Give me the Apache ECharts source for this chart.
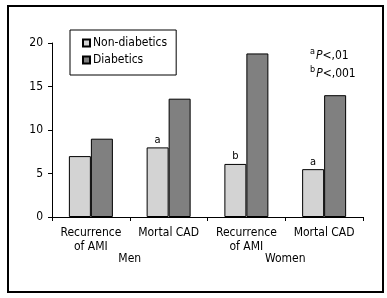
<!DOCTYPE html>
<html>
<head>
<meta charset="utf-8">
<script src="https://cdn.jsdelivr.net/npm/echarts@6/dist/echarts.min.js"></script>
<style>
  html, body { margin: 0; padding: 0; background: #fff; }
  #chart { width: 387px; height: 298px; }
</style>
</head>
<body>
<div id="chart"></div>
<script>
// data
const categories = ['Recurrence\nof AMI', 'Mortal CAD', 'Recurrence\nof AMI', 'Mortal CAD']
const groups = ['Men', 'Women']
const nonDiabetics = [7.0, 8.0, 6.1, 5.5]
const diabetics = [9.0, 13.6, 18.8, 14.0]
const marks = ['', 'a', 'b', 'a'] // significance letter above non-diabetic bar
const yTicks = [0, 20, 5]       // min, max, interval

const FONT = '"Liberation Sans Narrow", "DejaVu Sans Condensed", "Liberation Sans", sans-serif'

const chart = echarts.init(document.getElementById('chart'))

const option = {
  backgroundColor: '#fff',
  animation: false,
  textStyle: { fontFamily: FONT, color: '#000' },
  grid: { left: 52, right: 24, top: 43, bottom: 81 },
  legend: {
    left: 70,
    top: 30,
    orient: 'vertical',
    padding: [7, 9, 9, 12],
    itemGap: 5,
    itemWidth: 7,
    itemHeight: 7,
    borderColor: '#000',
    borderWidth: 1,
    icon: 'rect',
    textStyle: { fontFamily: FONT, fontSize: 12, color: '#000', padding: [0, 0, 0, -2] },
    data: ['Non-diabetics', 'Diabetics']
  },
  xAxis: [
    {
      type: 'category',
      data: categories,
      axisLine: { lineStyle: { color: '#000', width: 1 } },
      axisTick: { show: true, interval: 0, length: 4, lineStyle: { color: '#000' } },
      axisLabel: { interval: 0, fontFamily: FONT, fontSize: 12, color: '#000', margin: 9, lineHeight: 14 }
    },
    {
      type: 'category',
      data: groups,
      position: 'bottom',
      offset: 36,
      axisLine: { show: false },
      axisTick: { show: false },
      axisLabel: { interval: 0, fontFamily: FONT, fontSize: 12, color: '#000', margin: 0 }
    }
  ],
  yAxis: {
    type: 'value',
    min: yTicks[0],
    max: yTicks[1],
    interval: yTicks[2],
    splitLine: { show: false },
    axisLine: { show: true, lineStyle: { color: '#000' } },
    axisTick: { show: true, length: 4, lineStyle: { color: '#000' } },
    axisLabel: { fontFamily: FONT, fontSize: 12, color: '#000', margin: 9 }
  },
  series: [
    {
      name: 'Non-diabetics',
      type: 'bar',
      xAxisIndex: 0,
      barWidth: 22,
      barGap: '0%',
      itemStyle: { color: '#d3d3d3', borderColor: '#000', borderWidth: 1 },
      data: nonDiabetics.map((v, i) => ({
        value: v,
        label: {
          show: marks[i] !== '',
          position: 'top',
          distance: 2,
          formatter: marks[i],
          fontFamily: FONT,
          fontSize: 11,
          color: '#000'
        }
      }))
    },
    {
      name: 'Diabetics',
      type: 'bar',
      xAxisIndex: 0,
      barWidth: 22,
      barGap: '0%',
      itemStyle: { color: '#808080', borderColor: '#000', borderWidth: 1 },
      data: diabetics
    }
  ],
  graphic: [
    {
      type: 'rect',
      shape: { x: 8, y: 6, width: 375, height: 286 },
      style: { fill: 'none', stroke: '#000', lineWidth: 2 },
      silent: true
    },
    {
      type: 'text',
      left: 310,
      top: 47,
      style: {
        text: '{s|a}{i|P}{n|<,01}\n{s|b}{i|P}{n|<,001}',
        fontFamily: FONT,
        lineHeight: 18,
        rich: {
          s: { fontSize: 9, verticalAlign: 'top', fontFamily: FONT, padding: [0, 1, 5, 0] },
          i: { fontSize: 12, fontStyle: 'italic', fontFamily: FONT },
          n: { fontSize: 12, fontFamily: FONT }
        }
      }
    }
  ]
}

chart.setOption(option)
</script>
</body>
</html>
